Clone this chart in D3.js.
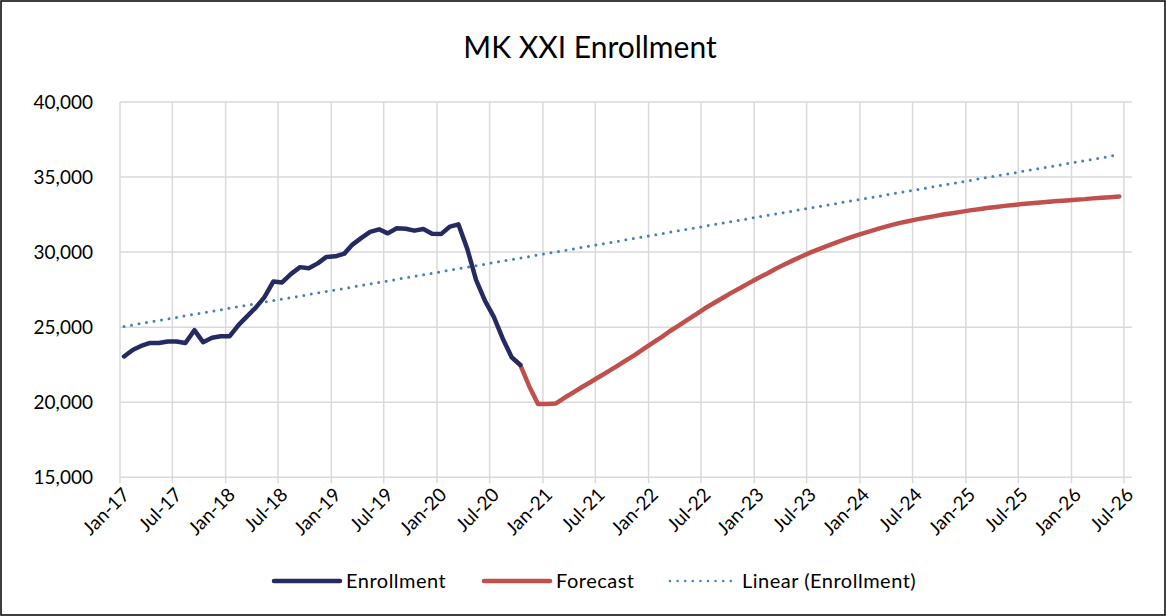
<!DOCTYPE html>
<html><head><meta charset="utf-8">
<script src="https://cdn.jsdelivr.net/npm/d3@7"></script>
<style>body{margin:0;background:#fff} svg{display:block}</style>
</head><body><svg id="c" width="1166" height="616"></svg>
<script>
// ---- data ----
const title = "MK XXI Enrollment";
const enrollmentStart = [2017, 0];   // Jan-17, monthly
const enrollment = [
  23050, 23500, 23750, 23950, 23950, 24050, 24050, 23950, 24800, 24000, 24300, 24400,
  24400, 25150, 25700, 26300, 27000, 28050, 27980, 28550, 29000, 28930, 29250, 29680,
  29720, 29900, 30500, 30950, 31350, 31520, 31250, 31590, 31560, 31430, 31540, 31230,
  31200, 31700, 31850, 30200, 28150, 26750, 25700, 24250, 23000, 22480
];
const forecastStart = [2020, 9];     // Oct-20, monthly
const forecast = [
  22480, 21050, 19880,
  19880, 19920, 20280, 20640, 21000, 21350, 21700, 22060, 22420, 22790, 23160, 23550,
  23950, 24340, 24730, 25110, 25490, 25870, 26260, 26610, 26960, 27300, 27630, 27950,
  28280, 28580, 28880, 29170, 29450, 29720, 29980, 30220, 30450, 30670, 30880, 31080,
  31270, 31450, 31620, 31780, 31930, 32060, 32180, 32290, 32400, 32500, 32590, 32680,
  32780, 32860, 32940, 33010, 33080, 33140, 33210, 33260, 33310, 33360, 33400, 33440,
  33490, 33530, 33580, 33620, 33660, 33710
];
const trendMonths = [[2017, 0], [2026, 5]];
const trendValues = [25050, 36490];
const yTicks = [15000, 20000, 25000, 30000, 35000, 40000];
const seriesNames = ["Enrollment", "Forecast", "Linear (Enrollment)"];
const seriesColors = ["#262a62", "#c0504d", "#4a7ebb"];

// ---- helpers ----
const monthDate = (y, m) => new Date(Date.UTC(y, m, 15));
const toPoints = (start, vals) => vals.map((v, i) => ({d: monthDate(start[0], start[1] + i), v}));

const svg = d3.select("#c");
const font = "Lato, 'Open Sans', sans-serif";
const W = 1166, H = 616;

svg.append("rect").attr("x", 0).attr("y", 0).attr("width", W).attr("height", H).attr("fill", "#fff");
svg.append("rect").attr("x", 1).attr("y", 1).attr("width", W - 2).attr("height", H - 2)
  .attr("fill", "none").attr("stroke", "#000").attr("stroke-width", 1.5);

const x = d3.scaleUtc()
  .domain([new Date(Date.UTC(2017, 0, 1)), new Date(Date.UTC(2026, 6, 29))])
  .range([120, 1132]);
const y = d3.scaleLinear().domain([15000, 40000]).range([477.3, 102]);

const xTicks = d3.utcMonth.every(6).range(new Date(Date.UTC(2017, 0, 1)), new Date(Date.UTC(2026, 6, 2)));

// gridlines
const grid = svg.append("g").attr("stroke", "#d9d9d9").attr("stroke-width", 1.5);
grid.selectAll("line.h").data(yTicks).join("line").attr("class", "h")
  .attr("x1", x.range()[0]).attr("x2", x.range()[1])
  .attr("y1", d => y(d)).attr("y2", d => y(d));
grid.selectAll("line.v").data(xTicks).join("line").attr("class", "v")
  .attr("x1", d => x(d)).attr("x2", d => x(d))
  .attr("y1", y(40000)).attr("y2", y(15000) + 6);

// y axis labels
const yAxis = d3.axisLeft(y).tickValues(yTicks).tickFormat(d3.format(",")).tickSize(0).tickPadding(0);
const ya = svg.append("g").attr("transform", "translate(93,0)").call(yAxis);
ya.select(".domain").remove();
ya.selectAll("text").attr("font-family", font).attr("font-size", 19).attr("fill", "#000");

// x axis labels
const fmt = d3.utcFormat("%b-%y");
const xAxis = d3.axisBottom(x).tickValues(xTicks).tickFormat(fmt).tickSize(0).tickPadding(0);
const xa = svg.append("g").call(xAxis);
xa.select(".domain").remove();
xa.selectAll(".tick").attr("transform", d => `translate(${x(d) + 6},${y(15000) + 14})`);
xa.selectAll("text").attr("font-family", font).attr("font-size", 19).attr("fill", "#000")
  .attr("text-anchor", "end").attr("dy", "0.35em").attr("y", 0)
  .attr("transform", "rotate(-45)");

// lines
const line = d3.line().x(p => x(p.d)).y(p => y(p.v));
const trendPts = trendMonths.map((m, i) => ({d: monthDate(m[0], m[1]), v: trendValues[i]}));
svg.append("path").datum(trendPts).attr("d", line).attr("fill", "none")
  .attr("stroke", seriesColors[2]).attr("stroke-width", 3).attr("stroke-linecap", "round")
  .attr("stroke-dasharray", "0 7.6");
svg.append("path").datum(toPoints(forecastStart, forecast)).attr("d", line).attr("fill", "none")
  .attr("stroke", seriesColors[1]).attr("stroke-width", 4.5).attr("stroke-linejoin", "round").attr("stroke-linecap", "round");
svg.append("path").datum(toPoints(enrollmentStart, enrollment)).attr("d", line).attr("fill", "none")
  .attr("stroke", seriesColors[0]).attr("stroke-width", 4.5).attr("stroke-linejoin", "round").attr("stroke-linecap", "round");

// title
svg.append("text").attr("x", 590).attr("y", 58).attr("text-anchor", "middle")
  .attr("font-family", font).attr("font-size", 30).attr("fill", "#000").text(title);

// legend
const legendX = [274, 484, 670];
const lg = svg.append("g");
seriesNames.forEach((name, i) => {
  const g = lg.append("g").attr("transform", `translate(${legendX[i]},581)`);
  const l = g.append("line").attr("x1", 0).attr("x2", 66).attr("y1", 0).attr("y2", 0)
    .attr("stroke", seriesColors[i]).attr("stroke-linecap", "round");
  if (i < 2) l.attr("stroke-width", 4.5);
  else l.attr("stroke-width", 2.5).attr("stroke-dasharray", "0 7.6");
  g.append("text").attr("x", 72).attr("y", 0).attr("dy", "0.35em")
    .attr("font-family", font).attr("font-size", 20).attr("letter-spacing", 0.5)
    .attr("fill", "#000").text(name);
});
</script>
</body></html>
